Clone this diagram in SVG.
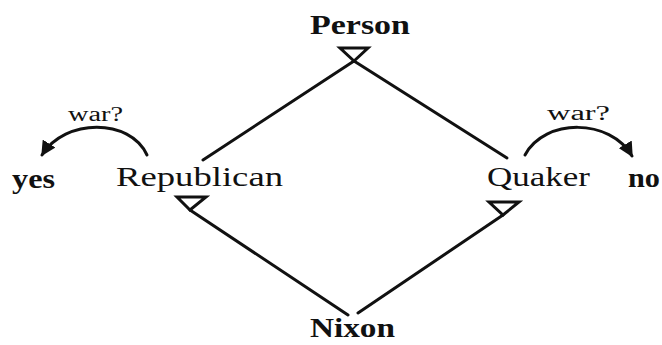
<svg xmlns="http://www.w3.org/2000/svg" width="662" height="345" viewBox="0 0 662 345">
<defs>
<style>
text{font-family:"Liberation Serif","Times New Roman",serif;fill:#111}
.n{font-size:27px}
.b{font-weight:bold}
.l{font-size:20px}
.e{stroke:#111;stroke-width:3;fill:none;stroke-linecap:round}
.t{stroke:#111;stroke-width:3;fill:#fff;stroke-linejoin:miter}
</style>
<marker id="ah" viewBox="0 0 10 10" refX="9" refY="5" markerWidth="5" markerHeight="5" orient="auto" markerUnits="strokeWidth">
<path d="M0,0 L10,5 L0,10 z" fill="#111"/>
</marker>
</defs>
<rect width="662" height="345" fill="#fff"/>
<g id="connectors">
<path class="e" d="M354,61 L203,160"/>
<path class="e" d="M354,61 L507,158"/>
<path class="e" d="M190,210 L348,315"/>
<path class="e" d="M503,215 L358,313"/>
<polygon class="t" points="340,48 368,48 354,61"/>
<polygon class="t" points="177,197 206,197 190,210"/>
<polygon class="t" points="489,202 519,202 503,215"/>
<path class="e" d="M147,155 C130,118 65,118 42,155" marker-end="url(#ah)"/>
<path class="e" d="M525,155 C545,118 610,118 632,156" marker-end="url(#ah)"/>
<text class="l" x="68" y="121" textLength="55" lengthAdjust="spacingAndGlyphs">war?</text>
<text class="l" x="547" y="120" textLength="63" lengthAdjust="spacingAndGlyphs">war?</text>
</g>
<g id="person"><text class="n b" x="310" y="34" textLength="100" lengthAdjust="spacingAndGlyphs">Person</text></g>
<g id="republican"><text class="n" x="116" y="186" textLength="167" lengthAdjust="spacingAndGlyphs">Republican</text></g>
<g id="quaker"><text class="n" x="487" y="186" textLength="103" lengthAdjust="spacingAndGlyphs">Quaker</text></g>
<g id="nixon"><text class="n b" x="310" y="337" textLength="85" lengthAdjust="spacingAndGlyphs">Nixon</text></g>
<g id="yes"><text class="n b" x="12" y="188" textLength="43" lengthAdjust="spacingAndGlyphs">yes</text></g>
<g id="no"><text class="n b" x="628" y="187" textLength="32" lengthAdjust="spacingAndGlyphs">no</text></g>
</svg>
